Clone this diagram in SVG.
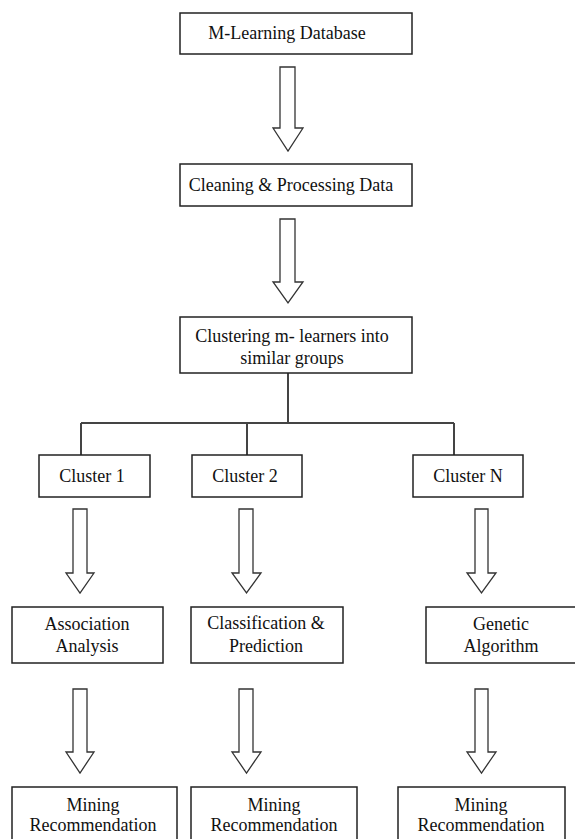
<svg xmlns="http://www.w3.org/2000/svg" width="575" height="839" viewBox="0 0 575 839">
<style>
.box{fill:#fff;stroke:#222;stroke-width:1.5}
.lbl{font-family:"Liberation Serif","Times New Roman",serif;font-size:18px;fill:#111;text-anchor:middle}
.tree{fill:none;stroke:#444;stroke-width:2}
.barrow{fill:#fff;stroke:#333;stroke-width:1.3;stroke-linejoin:miter}
</style>
<rect width="575" height="839" fill="#fff"/>
<g id="connectors">
<path class="barrow" d="M280,67 H295 V128 H303 L288,151 L273,128 H280 Z"/>
<path class="barrow" d="M280,219 H295 V282 H303 L288,303 L273,282 H280 Z"/>
<path class="tree" d="M288,373 V423 M81,423 H454 M81,423 V455 M247,423 V455 M454,423 V455"/>
<path class="barrow" d="M73,509 H87 V573 H94 L80,593 L66,573 H73 Z"/>
<path class="barrow" d="M239,509 H253 V573 H261 L246.5,593 L232,573 H239 Z"/>
<path class="barrow" d="M475,509 H488 V573 H496 L481.5,593 L467,573 H475 Z"/>
<path class="barrow" d="M73,689 H87 V752 H94 L80,773 L66,752 H73 Z"/>
<path class="barrow" d="M239,689 H253 V752 H261 L246.5,773 L232,752 H239 Z"/>
<path class="barrow" d="M475,689 H488 V752 H496 L481.5,773 L467,752 H475 Z"/>
</g>
<g id="n_db"><rect class="box" x="180" y="13" width="232" height="41"/><text class="lbl" x="287" y="39">M-Learning Database</text></g>
<g id="n_clean"><rect class="box" x="180" y="164" width="232" height="42"/><text class="lbl" x="291" y="191">Cleaning &amp; Processing Data</text></g>
<g id="n_clustering"><rect class="box" x="180" y="317" width="232" height="56"/><text class="lbl" x="292" y="342">Clustering m- learners into</text><text class="lbl" x="292" y="364">similar groups</text></g>
<g id="n_c1"><rect class="box" x="39" y="455" width="111" height="42"/><text class="lbl" x="92" y="482">Cluster 1</text></g>
<g id="n_c2"><rect class="box" x="192" y="455" width="110" height="42"/><text class="lbl" x="245" y="482">Cluster 2</text></g>
<g id="n_cn"><rect class="box" x="413" y="455" width="110" height="42"/><text class="lbl" x="468" y="482">Cluster N</text></g>
<g id="n_assoc"><rect class="box" x="12" y="607" width="151" height="56"/><text class="lbl" x="87" y="630">Association</text><text class="lbl" x="87" y="652">Analysis</text></g>
<g id="n_class"><rect class="box" x="191" y="607" width="152" height="56"/><text class="lbl" x="266" y="629">Classification &amp;</text><text class="lbl" x="266" y="652">Prediction</text></g>
<g id="n_gen"><rect class="box" x="426" y="607" width="150" height="56"/><text class="lbl" x="501" y="630">Genetic</text><text class="lbl" x="501" y="652">Algorithm</text></g>
<g id="n_m1"><rect class="box" x="12" y="787" width="165" height="60"/><text class="lbl" x="93" y="811">Mining</text><text class="lbl" x="93" y="831">Recommendation</text></g>
<g id="n_m2"><rect class="box" x="191" y="787" width="166" height="60"/><text class="lbl" x="274" y="811">Mining</text><text class="lbl" x="274" y="831">Recommendation</text></g>
<g id="n_m3"><rect class="box" x="398" y="787" width="167" height="60"/><text class="lbl" x="481" y="811">Mining</text><text class="lbl" x="481" y="831">Recommendation</text></g>
</svg>
